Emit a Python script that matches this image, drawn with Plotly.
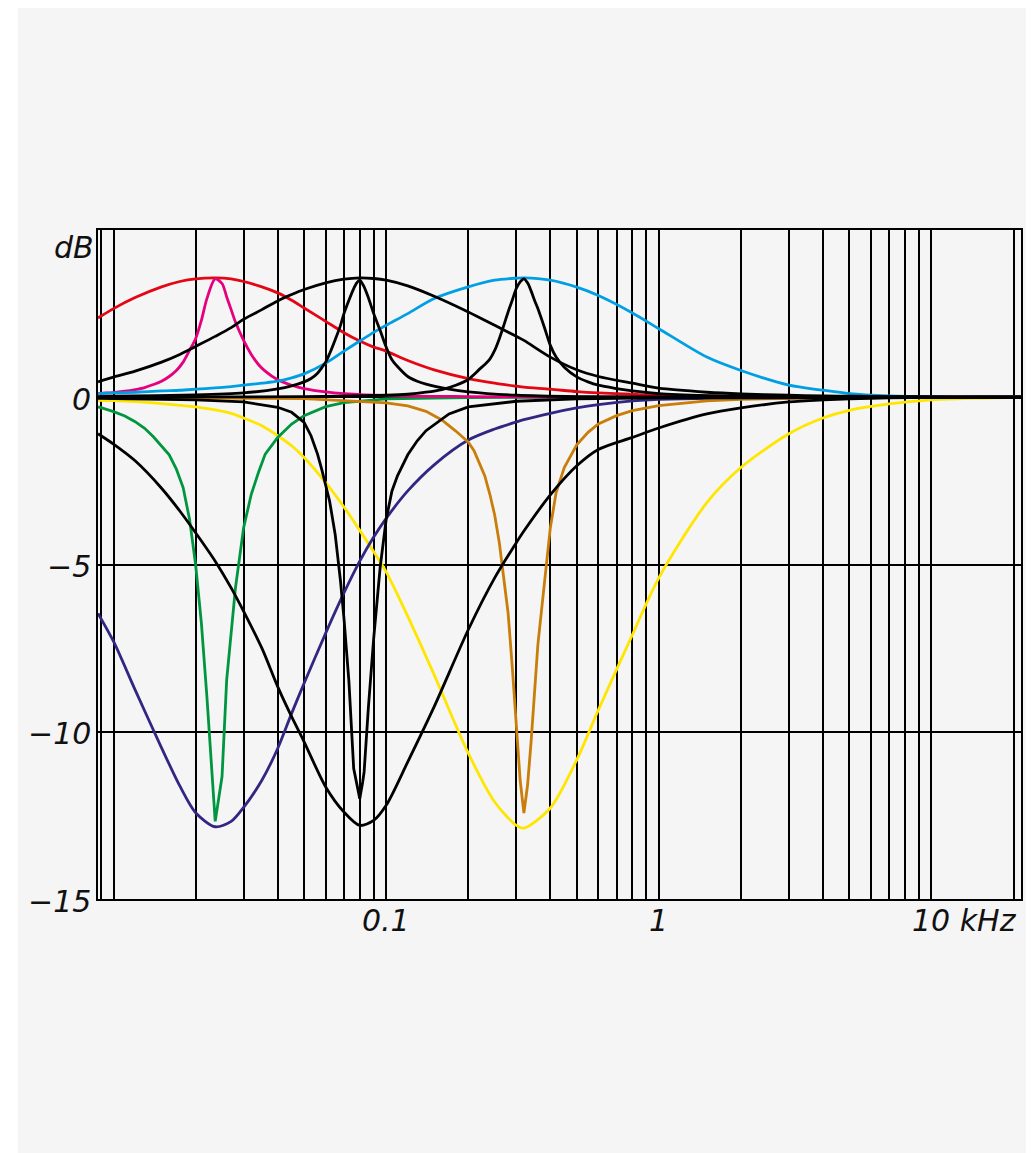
import math
import plotly.graph_objects as go

# ---------------- data (frequencies in kHz, levels in dB) ----------------
F_WIDE = [0.00877, 0.01, 0.012, 0.015, 0.0175, 0.02, 0.0236, 0.027, 0.03, 0.035,
          0.04, 0.045, 0.05, 0.06, 0.07, 0.08, 0.09, 0.1, 0.12, 0.15,
          0.2, 0.25, 0.3, 0.32, 0.4, 0.5, 0.6, 0.8, 1, 1.5,
          2, 3, 4, 5, 7, 10, 15, 21.3]

RED_WIDE_BOOST = [2.37, 2.65, 2.98, 3.30, 3.46, 3.54, 3.57, 3.54, 3.46, 3.30,
                  3.12, 2.90, 2.67, 2.27, 1.93, 1.68, 1.50, 1.38, 1.10, 0.82,
                  0.56, 0.42, 0.33, 0.30, 0.24, 0.17, 0.13, 0.09, 0.06, 0.04,
                  0.03, 0.02, 0.01, 0.01, 0.0, 0.0, 0.0, 0.0]

BLACK_WIDE_BOOST = [0.46, 0.60, 0.78, 1.05, 1.28, 1.52, 1.82, 2.08, 2.33, 2.62,
                    2.88, 3.07, 3.22, 3.42, 3.53, 3.57, 3.55, 3.50, 3.33, 3.02,
                    2.55, 2.15, 1.82, 1.70, 1.20, 0.82, 0.62, 0.42, 0.27, 0.15,
                    0.10, 0.06, 0.04, 0.03, 0.02, 0.01, 0.0, 0.0]

CYAN_WIDE_BOOST = [0.11, 0.13, 0.15, 0.19, 0.21, 0.24, 0.28, 0.32, 0.36, 0.42,
                   0.48, 0.58, 0.70, 1.02, 1.38, 1.68, 1.94, 2.15, 2.50, 2.95,
                   3.30, 3.50, 3.56, 3.57, 3.50, 3.29, 3.04, 2.52, 2.05, 1.20,
                   0.80, 0.36, 0.21, 0.11, 0.04, 0.01, 0.0, 0.0]

BLUE_WIDE_CUT = [-6.46, -7.30, -8.75, -10.48, -11.62, -12.42, -12.84, -12.68, -12.26, -11.45,
                 -10.50, -9.45, -8.55, -7.05, -5.85, -4.90, -4.18, -3.62, -2.80, -2.02,
                 -1.28, -0.95, -0.74, -0.67, -0.48, -0.32, -0.22, -0.11, -0.06, -0.03,
                 -0.02, -0.01, 0.0, 0.0, 0.0, 0.0, 0.0, 0.0]

BLACK_WIDE_CUT = [-1.09, -1.40, -1.90, -2.72, -3.40, -4.05, -4.90, -5.70, -6.40, -7.50,
                  -8.65, -9.55, -10.30, -11.65, -12.40, -12.80, -12.65, -12.20, -10.90, -9.25,
                  -6.95, -5.40, -4.35, -4.00, -2.92, -2.05, -1.56, -1.20, -0.92, -0.50,
                  -0.32, -0.14, -0.08, -0.05, -0.02, -0.01, 0.0, 0.0]

YELLOW_WIDE_CUT = [-0.09, -0.10, -0.13, -0.19, -0.24, -0.29, -0.38, -0.48, -0.62, -0.85,
                   -1.15, -1.45, -1.80, -2.55, -3.28, -3.98, -4.62, -5.22, -6.55, -8.30,
                   -10.64, -12.10, -12.80, -12.88, -12.28, -10.84, -9.35, -7.10, -5.40, -3.15,
                   -2.10, -1.09, -0.62, -0.39, -0.20, -0.08, -0.03, 0.0]

F_NARROW_A = [0.00877, 0.009, 0.01, 0.011, 0.012, 0.013, 0.014, 0.015, 0.016, 0.017,
              0.018, 0.019, 0.02, 0.021, 0.022, 0.0236, 0.025, 0.026, 0.027, 0.028,
              0.03, 0.032, 0.034, 0.036, 0.04, 0.045, 0.05, 0.06, 0.07, 0.1,
              0.2, 0.5, 21.3]

PINK_NARROW_BOOST = [0.11, 0.12, 0.14, 0.18, 0.23, 0.29, 0.38, 0.48, 0.62, 0.80,
                     1.05, 1.40, 1.75, 2.30, 2.95, 3.54, 3.40, 3.00, 2.62, 2.25,
                     1.70, 1.28, 0.98, 0.78, 0.52, 0.36, 0.26, 0.16, 0.11, 0.05,
                     0.02, 0.0, 0.0]

GREEN_NARROW_CUT = [-0.29, -0.31, -0.43, -0.56, -0.73, -0.93, -1.18, -1.45, -1.72, -2.15,
                    -2.70, -3.65, -5.00, -6.75, -8.95, -12.68, -11.34, -8.45, -6.95, -5.70,
                    -3.90, -2.90, -2.25, -1.70, -1.20, -0.80, -0.55, -0.28, -0.16, -0.05,
                    -0.01, 0.0, 0.0]

F_NARROW_B = [0.00877, 0.01, 0.02, 0.03, 0.04, 0.045, 0.05, 0.053, 0.056, 0.058,
              0.06, 0.062, 0.065, 0.068, 0.07, 0.073, 0.076, 0.078, 0.08, 0.082,
              0.083, 0.086, 0.09, 0.095, 0.1, 0.105, 0.11, 0.12, 0.13, 0.14,
              0.17, 0.2, 0.3, 0.5, 1, 21.3]

BLACK_NARROW_BOOST_B = [0.02, 0.03, 0.07, 0.13, 0.25, 0.34, 0.46, 0.56, 0.72, 0.88,
                        1.05, 1.30, 1.72, 2.15, 2.50, 2.90, 3.25, 3.42, 3.50, 3.38,
                        3.30, 2.98, 2.50, 2.00, 1.50, 1.12, 0.92, 0.62, 0.48, 0.39,
                        0.24, 0.16, 0.06, 0.02, 0.01, 0.0]

BLACK_NARROW_CUT_B = [-0.03, -0.04, -0.08, -0.14, -0.30, -0.45, -0.75, -1.15, -1.70, -2.15,
                      -2.60, -3.10, -4.10, -5.50, -6.60, -8.50, -11.10, -11.60, -12.00, -11.50,
                      -11.20, -9.30, -7.20, -5.10, -3.65, -2.80, -2.35, -1.72, -1.30, -1.00,
                      -0.50, -0.29, -0.12, -0.05, -0.02, 0.0]

F_NARROW_C = [0.00877, 0.02, 0.05, 0.1, 0.12, 0.14, 0.16, 0.18, 0.2, 0.21,
              0.22, 0.23, 0.24, 0.25, 0.26, 0.27, 0.28, 0.29, 0.3, 0.31,
              0.32, 0.33, 0.34, 0.35, 0.36, 0.38, 0.4, 0.42, 0.45, 0.5,
              0.55, 0.6, 0.7, 0.8, 1, 1.5, 2, 5, 21.3]

BLACK_NARROW_BOOST_C = [0.0, 0.01, 0.02, 0.06, 0.09, 0.15, 0.23, 0.36, 0.53, 0.68,
                        0.84, 0.98, 1.14, 1.40, 1.75, 2.15, 2.55, 2.90, 3.25, 3.45,
                        3.54, 3.42, 3.18, 2.90, 2.65, 2.10, 1.55, 1.20, 0.90, 0.61,
                        0.46, 0.36, 0.26, 0.19, 0.11, 0.05, 0.03, 0.01, 0.0]

ORANGE_NARROW_CUT = [0.0, -0.01, -0.04, -0.17, -0.26, -0.42, -0.68, -1.01, -1.34, -1.60,
                     -2.00, -2.35, -2.90, -3.52, -4.35, -5.35, -6.45, -8.05, -9.90, -11.45,
                     -12.43, -11.60, -10.30, -8.80, -7.40, -5.60, -3.90, -2.85, -2.10, -1.42,
                     -1.05, -0.80, -0.55, -0.40, -0.25, -0.11, -0.06, -0.01, 0.0]

X_GRID = [0.009, 0.01, 0.02, 0.03, 0.04, 0.05, 0.06, 0.07, 0.08, 0.09,
          0.1, 0.2, 0.3, 0.4, 0.5, 0.6, 0.7, 0.8, 0.9,
          1, 2, 3, 4, 5, 6, 7, 8, 9, 10, 20]
Y_GRID = [-15, -10, -5, 0, 5]
Y_LABELS = ["\u221215", "\u221210", "\u22125", "0"]
Y_LABEL_VALUES = [-15, -10, -5, 0]
X_LABELS = ["0.1", "1"]
X_LABEL_VALUES = [0.1, 1]
X_RANGE = [0.00877, 21.3]
Y_RANGE = [-15, 5]

# ---------------- figure ----------------
RED = "#e30613"
PINK = "#e6007e"
CYAN = "#009fe3"
BLUE = "#312783"
GREEN = "#009640"
YELLOW = "#ffe600"
ORANGE = "#c97d0a"
BLACK = "#000000"

fig = go.Figure()

def add(xs, ys, color, shape="spline"):
    fig.add_trace(go.Scatter(x=xs, y=ys, mode="lines",
                             line=dict(color=color, width=2.8, shape=shape, smoothing=0.8),
                             hoverinfo="skip", showlegend=False))

add(F_WIDE, YELLOW_WIDE_CUT, YELLOW)
add(F_WIDE, BLUE_WIDE_CUT, BLUE)
add(F_NARROW_A, GREEN_NARROW_CUT, GREEN, "linear")
add(F_NARROW_C, ORANGE_NARROW_CUT, ORANGE, "linear")
add(F_WIDE, RED_WIDE_BOOST, RED)
add(F_NARROW_A, PINK_NARROW_BOOST, PINK)
add(F_WIDE, CYAN_WIDE_BOOST, CYAN)
add(F_WIDE, BLACK_WIDE_BOOST, BLACK)
add(F_NARROW_B, BLACK_NARROW_BOOST_B, BLACK)
add(F_NARROW_C, BLACK_NARROW_BOOST_C, BLACK)
add(F_WIDE, BLACK_WIDE_CUT, BLACK)
add(F_NARROW_B, BLACK_NARROW_CUT_B, BLACK, "linear")

FONT = dict(family="DejaVu Sans", size=30, color="#111111", style="italic")

# figure is placed at (8, 8) in the page by the default body margin
W, H = 1026, 1145
ML, MR, MT, MB = 90, 13, 222, 254
PW = W - ML - MR
PH = H - MT - MB

def px_x(p):  # page x -> paper x
    return (p - 8 - ML) / PW

def px_y(p):  # page y -> paper y
    return (H - MB - (p - 8)) / PH

annotations = []
for lab, v in zip(Y_LABELS, Y_LABEL_VALUES):
    annotations.append(dict(xref="paper", yref="y", x=px_x(93), y=v, text=lab,
                            showarrow=False, xanchor="right", yanchor="middle",
                            yshift=-2, font=FONT))
annotations.append(dict(xref="paper", yref="paper", x=px_x(96), y=px_y(247), text="dB",
                        showarrow=False, xanchor="right", yanchor="middle", font=FONT))
for lab, v in zip(X_LABELS, X_LABEL_VALUES):
    annotations.append(dict(xref="x", yref="paper", x=math.log10(v), y=px_y(920), text=lab,
                            showarrow=False, xanchor="center", yanchor="middle", font=FONT))
annotations.append(dict(xref="paper", yref="paper", x=px_x(1019), y=px_y(920), text="10 kHz",
                        showarrow=False, xanchor="right", yanchor="middle", font=FONT))

fig.update_layout(
    width=W, height=H,
    margin=dict(l=ML, r=MR, t=MT, b=MB),
    paper_bgcolor="#f5f5f5", plot_bgcolor="#f5f5f5",
    annotations=annotations,
    shapes=[
        dict(type="rect", xref="paper", yref="paper", x0=px_x(0), x1=px_x(18),
             y0=px_y(1200), y1=px_y(0), fillcolor="white", line=dict(width=0), layer="above"),
    ],
)
fig.update_xaxes(type="log", range=[math.log10(X_RANGE[0]), math.log10(X_RANGE[1])],
                 tickvals=X_GRID, showticklabels=False, ticks="",
                 showgrid=True, gridcolor="#000000", gridwidth=1.7,
                 showline=True, linecolor="#000000", linewidth=2.2, mirror=True, zeroline=False)
fig.update_yaxes(range=Y_RANGE, tickvals=Y_GRID, showticklabels=False, ticks="",
                 showgrid=True, gridcolor="#000000", gridwidth=1.7,
                 showline=True, linecolor="#000000", linewidth=2.2, mirror=True, zeroline=False)

fig.write_html("out.html")
